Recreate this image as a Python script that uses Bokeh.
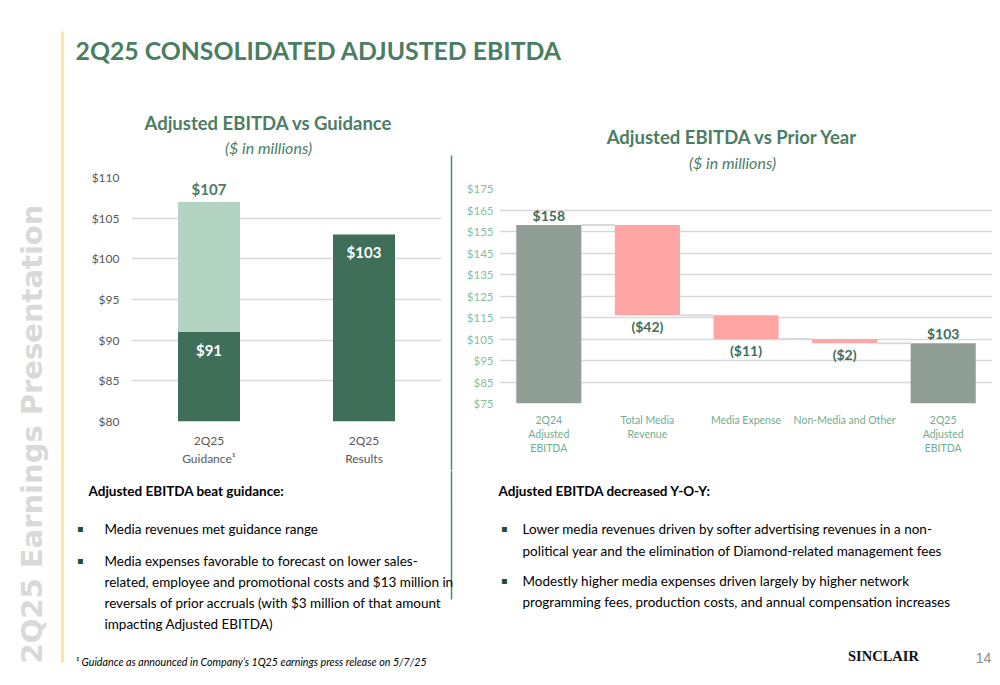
import math
from bokeh.plotting import figure
from bokeh.layouts import row, column
from bokeh.models import Range1d, FactorRange, FixedTicker, NumeralTickFormatter
from bokeh.transform import dodge
from bokeh.core.properties import value
from bokeh.embed import file_html
from bokeh.resources import INLINE

# ---------------- data ----------------
guidance_categories = ["2Q25\nGuidance\u00b9", "2Q25\nResults"]
guidance_low = 91
guidance_high = 107
results_value = 103
guidance_ticks = [80, 85, 90, 95, 100, 105, 110]

bridge_categories = ["2Q24\nAdjusted\nEBITDA", "Total Media\nRevenue", "Media Expense",
                     "Non-Media and Other", "2Q25\nAdjusted\nEBITDA"]
bridge_values = [158, -42, -11, -2, 103]
bridge_is_total = [True, False, False, False, True]
bridge_ticks = [75, 85, 95, 105, 115, 125, 135, 145, 155, 165, 175]

slide_title = "2Q25 CONSOLIDATED ADJUSTED EBITDA"
left_title = "Adjusted EBITDA vs Guidance"
right_title = "Adjusted EBITDA vs Prior Year"
subtitle = "($ in millions)"
side_text = "2Q25 Earnings Presentation"
left_heading = "Adjusted EBITDA beat guidance:"
left_bullets = [["Media revenues met guidance range"],
                ["Media expenses favorable to forecast on lower sales-",
                 "related, employee and promotional costs and $13 million in",
                 "reversals of prior accruals (with $3 million of that amount",
                 "impacting Adjusted EBITDA)"]]
right_heading = "Adjusted EBITDA decreased Y-O-Y:"
right_bullets = [["Lower media revenues driven by softer advertising revenues in a non-",
                  "political year and the elimination of Diamond-related management fees"],
                 ["Modestly higher media expenses driven largely by higher network",
                  "programming fees, production costs, and annual compensation increases"]]
footnote = "\u00b9 Guidance as announced in Company\u2019s 1Q25 earnings press release on 5/7/25"
brand = "SINCLAIR"
page_no = "14"

# ---------------- styles ----------------
BODY = "Lato"
GREEN_T = "#4b7d63"
DARK = "#3f6e59"
LIGHT = "#b3d3c3"
GRAY_BAR = "#8f9f96"
PINK = "#ffa5a3"
GRID = "#d9d9d9"
DIVIDER = "#4a8c6c"
YELLOW = "#ffe699"


def canvas(w, h, x0, x1, y_top, y_bottom, border_left=0, border_right=0):
    p = figure(width=w, height=h, x_range=Range1d(x0, x1), y_range=Range1d(y_bottom, y_top),
               toolbar_location=None, output_backend="svg", min_border=0,
               min_border_left=border_left, min_border_right=border_right,
               outline_line_color=None, x_axis_type=None, y_axis_type=None)
    p.grid.visible = False
    return p


def txt(p, x, y, s, size, color="#000000", font=BODY, style="normal", align="left",
        baseline="middle", angle=0.0):
    p.text(x=[x], y=[y], text=[s], text_font=value(font), text_font_size=f"{size}px",
           text_font_style=style, text_color=color, text_align=align,
           text_baseline=baseline, angle=angle)


# ---------------- side strip ----------------
strip = canvas(68, 677, 0, 68, 0, 677)
txt(strip, 31, 663, side_text, 29, color="#d9d9d9", font="DejaVu Sans", style="bold",
    angle=math.pi / 2)
strip.segment(x0=[62], y0=[31], x1=[62], y1=[662], line_color=YELLOW, line_width=3)

# ---------------- top title ----------------
top = canvas(924, 75, 68, 992, 0, 75)
txt(top, 75, 50, slide_title, 24.8, color=GREEN_T, style="bold")

# ---------------- left header + chart ----------------
# header frame is aligned with the chart frame below it (x 131..441)
lh = canvas(378, 93, 131, 441, 75, 168, border_left=63, border_right=5)
txt(lh, 268, 122, left_title, 18.5, color=GREEN_T, style="bold", align="center")
txt(lh, 268, 147, subtitle, 16, color=GREEN_T, style="italic", align="center")

g_min, g_max = guidance_ticks[0], guidance_ticks[-1]
lc = figure(width=378, height=302, x_range=FactorRange(factors=guidance_categories),
            y_range=Range1d(g_min, g_max), toolbar_location=None, output_backend="svg",
            min_border_left=63, min_border_right=5, min_border_top=9, min_border_bottom=49,
            outline_line_color=None)
lc.vbar(x=guidance_categories, bottom=g_min, top=[guidance_low, results_value], width=0.4,
        fill_color=DARK, line_color=None)
lc.vbar(x=[guidance_categories[0]], bottom=guidance_low, top=guidance_high, width=0.4,
        fill_color=LIGHT, line_color=None)
lc.text(x=[guidance_categories[0]], y=[guidance_high], text=[f"${guidance_high}"],
        text_font=value(BODY), text_font_size="15px", text_font_style="bold",
        text_color=GREEN_T, text_align="center", text_baseline="middle", y_offset=-13)
lc.text(x=guidance_categories, y=[guidance_low, results_value],
        text=[f"${guidance_low}", f"${results_value}"],
        text_font=value(BODY), text_font_size="15px", text_font_style="bold",
        text_color="#ffffff", text_align="center", text_baseline="middle", y_offset=18)

# ---------------- right header + chart ----------------
# header frame is aligned with the chart frame below it (x 499..992)
rh = canvas(536, 101, 499, 992, 75, 176, border_left=43, border_right=0)
txt(rh, 732, 136, right_title, 18.5, color=GREEN_T, style="bold", align="center")
txt(rh, 732, 162, subtitle, 16, color=GREEN_T, style="italic", align="center")

b_min, b_max = bridge_ticks[0], bridge_ticks[-1]
rc = figure(width=536, height=294, x_range=FactorRange(factors=bridge_categories),
            y_range=Range1d(b_min, b_max), toolbar_location=None, output_backend="svg",
            min_border_left=43, min_border_right=0, min_border_top=12, min_border_bottom=67,
            outline_line_color=None)

bottoms, tops, colors, labels, label_y, label_off, levels = [], [], [], [], [], [], []
running = 0
for v, tot in zip(bridge_values, bridge_is_total):
    if tot:
        bottoms.append(b_min)
        tops.append(v)
        colors.append(GRAY_BAR)
        labels.append(f"${v}")
        label_y.append(v)
        label_off.append(-10)
        running = v
    else:
        bottoms.append(running + v)
        tops.append(running)
        colors.append(PINK)
        labels.append(f"(${abs(v)})")
        label_y.append(running + v)
        label_off.append(11)
        running = running + v
    levels.append(running)

rc.vbar(x=bridge_categories, bottom=bottoms, top=tops, width=0.66, fill_color=colors,
        line_color=None)
rc.segment(x0=dodge("x0", 0.33, range=rc.x_range), x1=dodge("x1", -0.33, range=rc.x_range),
           y0="y", y1="y", line_color=GRID, line_width=2,
           source=dict(x0=bridge_categories[:-1], x1=bridge_categories[1:], y=levels[:-1]))
rc.text(x=bridge_categories, y=label_y, text=labels, y_offset=label_off,
        text_font=value(BODY), text_font_size="14px", text_font_style="bold",
        text_color=DARK, text_align="center", text_baseline="middle")

# axes styling
for p, ticks, tick_col, tick_size, cat_col, cat_size, ysoff, xsoff in (
        (lc, guidance_ticks, "#595959", "12px", "#595959", "12px", 12, 11),
        (rc, bridge_ticks, "#86c0a2", "11.5px", "#6fae8f", "10.5px", 6, 10)):
    p.xgrid.visible = False
    p.ygrid.grid_line_color = GRID
    p.ygrid.grid_line_width = 1.5
    p.yaxis.ticker = FixedTicker(ticks=ticks)
    p.ygrid.ticker = FixedTicker(ticks=ticks)
    p.yaxis.formatter = NumeralTickFormatter(format="$0")
    p.axis.axis_line_color = None
    p.axis.major_tick_line_color = None
    p.axis.minor_tick_line_color = None
    p.axis.major_tick_out = 0
    p.axis.major_label_text_font = BODY
    p.yaxis.major_label_text_font_size = tick_size
    p.yaxis.major_label_text_color = tick_col
    p.yaxis.major_label_standoff = ysoff
    p.xaxis.major_label_text_font_size = cat_size
    p.xaxis.major_label_text_color = cat_col
    p.xaxis.major_label_standoff = xsoff
    p.x_range.range_padding = 0

# ---------------- divider ----------------
div = canvas(10, 395, 446, 456, 75, 470)
div.segment(x0=[451], y0=[155], x1=[451], y1=[470], line_color=DIVIDER, line_width=1.5)

# ---------------- footer ----------------
foot = canvas(924, 207, 68, 992, 470, 677)
foot.segment(x0=[451], y0=[470], x1=[451], y1=[599], line_color=DIVIDER, line_width=1.5)
txt(foot, 88, 490, left_heading, 13.5, style="bold")
txt(foot, 498, 490, right_heading, 13.5, style="bold")
y_pos = [[528], [560, 581, 602, 623]]
for lines, ys in zip(left_bullets, y_pos):
    txt(foot, 80, ys[0], "\u25aa", 10, color="#1f4e3d", font="DejaVu Sans", align="center")
    for s, y in zip(lines, ys):
        txt(foot, 104, y, s, 13.5)
y_pos = [[528, 550], [580, 601]]
for lines, ys in zip(right_bullets, y_pos):
    txt(foot, 504, ys[0], "\u25aa", 10, color="#1f4e3d", font="DejaVu Sans", align="center")
    for s, y in zip(lines, ys):
        txt(foot, 522, y, s, 13.5)
txt(foot, 75, 661, footnote, 10.7, style="italic")
txt(foot, 883, 655, brand, 14.5, color="#111111", font="Liberation Serif", style="bold",
    align="center")
txt(foot, 983, 657, page_no, 14, color="#8c8c8c", font="Liberation Sans", align="center")

layout = row(strip, column(top, row(column(lh, lc), div, column(rh, rc)), foot))
open("out.html", "w").write(file_html(layout, INLINE))
